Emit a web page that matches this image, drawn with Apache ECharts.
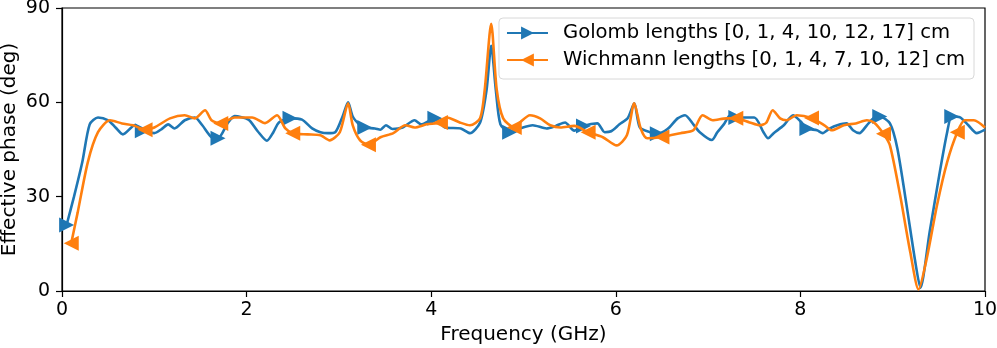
<!DOCTYPE html>
<html>
<head>
<meta charset="utf-8">
<script src="https://cdn.jsdelivr.net/npm/echarts@6/dist/echarts.min.js"></script>
<style>html,body{margin:0;padding:0;background:#fff;}#chart{width:997px;height:348px;}</style>
</head>
<body>
<div id="chart"></div>
<script>
const xTicks = [0, 2, 4, 6, 8, 10];
const yTicks = [0, 30, 60, 90];

const golombFreq = [0.05,0.13,0.22,0.30,0.39,0.5,0.58,0.66,0.79,0.87,1.0,1.08,1.15,1.22,1.33,1.44,1.52,1.62,1.69,1.8,1.87,2.02,2.12,2.22,2.29,2.35,2.47,2.6,2.71,2.8,2.88,2.96,3.04,3.1,3.15,3.23,3.28,3.39,3.45,3.51,3.58,3.69,3.82,3.89,4.04,4.15,4.32,4.42,4.53,4.6,4.65,4.7,4.75,4.85,4.96,5.1,5.25,5.35,5.45,5.55,5.65,5.8,5.88,5.95,6.04,6.13,6.2,6.26,6.37,6.45,6.56,6.67,6.75,6.84,6.91,7.04,7.1,7.17,7.24,7.3,7.5,7.6,7.65,7.71,7.82,7.92,8.0,8.07,8.18,8.24,8.32,8.4,8.5,8.57,8.64,8.72,8.79,8.86,8.97,9.05,9.15,9.25,9.3,9.4,9.51,9.59,9.64,9.73,9.82,9.91,10.0];
const golombPhase = [21,30,41,53,55.2,54.3,52,49.8,52.7,51,50.2,51.5,53,51.7,54.3,55.2,52.7,48.9,48.6,53.6,55.6,54.5,50.8,47.8,50.5,53.6,54.9,54.5,51.7,50.5,50.2,50.5,55.5,60,55.5,52.7,52,51.7,51.3,52.7,51.5,52,54.3,53,54.9,52,51.7,50.2,53.6,64,78,64,53,50.5,51.7,52.7,51.7,52.5,53.6,51,52.5,53.3,50.5,50.8,53,55,59.7,52,50.5,50,51.5,54.9,55.9,53,50.5,48,50.5,53,55.9,55.2,55.2,50.5,48.6,50.2,52.7,55.9,54,51.7,51.1,50.2,51.7,52.7,53.3,51.1,50.2,52.7,54.9,55.5,53.3,45.4,27.3,8.3,1,18.7,37.8,50.5,55.5,55.2,52.7,50.2,51.3];
const golombMarkFreq = [0.05,0.87,1.69,2.47,3.28,4.04,4.85,5.65,6.45,7.3,8.07,8.86,9.64];

const wichFreq = [0.1,0.17,0.28,0.39,0.52,0.65,0.77,0.9,1.0,1.17,1.33,1.44,1.55,1.62,1.72,1.87,2.06,2.2,2.33,2.42,2.5,2.66,2.8,2.9,3.01,3.1,3.15,3.23,3.32,3.45,3.59,3.72,3.82,3.95,4.1,4.17,4.31,4.42,4.53,4.58,4.65,4.71,4.78,4.9,4.96,5.07,5.18,5.29,5.4,5.55,5.7,5.86,6.01,6.12,6.2,6.27,6.34,6.5,6.7,6.84,6.94,7.05,7.2,7.3,7.45,7.56,7.63,7.7,7.78,7.85,7.96,8.12,8.26,8.34,8.47,8.6,8.72,8.8,8.9,8.97,9.08,9.19,9.28,9.37,9.48,9.59,9.7,9.78,9.88,10.0];
const wichPhase = [15.2,25,41,50.5,54.3,53.3,52.7,51.3,52,54.9,55.9,54.9,57.5,54.3,53.3,55.2,55.2,53.4,55.9,51.7,50.2,49.8,49.5,47.9,50.5,59.7,52.7,47.9,46.5,48.9,50.2,52.7,52,53,53.6,55.2,53.6,52.7,54.9,64,85,64,54.9,52,53.6,55.9,54.9,52.7,52,52.5,50.5,48.9,46.3,49.5,59.7,51.7,48.6,49,50.2,51.1,55.9,54.3,54.9,54.9,53.6,52.7,53.5,57.5,54.9,54.3,55.9,55,52.7,51.1,52.7,53.3,54.3,53.5,50,46.3,30.5,12.4,0.5,10.5,27.3,41,50.5,54.3,54.3,52];
const wichMarkFreq = [0.1,0.9,1.72,2.5,3.32,4.1,4.9,5.7,6.5,7.3,8.12,8.9,9.7];

const seriesNames = ['Golomb lengths [0, 1, 4, 10, 12, 17] cm', 'Wichmann lengths [0, 1, 4, 7, 10, 12] cm'];

function build(freq, phase, marks) {
  return freq.map((f, i) => {
    const isMark = marks.some(m => Math.abs(m - f) < 1e-9);
    return isMark ? { value: [f, phase[i]] } : { value: [f, phase[i]], symbol: 'none' };
  });
}

const font = 'DejaVu Sans, sans-serif';
const chart = echarts.init(document.getElementById('chart'), null, { renderer: 'canvas' });
chart.setOption({
  animation: false,
  backgroundColor: '#fff',
  grid: { left: 62, right: 12, top: 8, bottom: 57, containLabel: false, outerBoundsMode: 'none',
          show: true, borderColor: '#000', borderWidth: 1.2, backgroundColor: 'transparent' },
  xAxis: {
    type: 'value', min: xTicks[0], max: xTicks[xTicks.length - 1], interval: 2,
    name: 'Frequency (GHz)', nameLocation: 'middle', nameGap: 34, nameMoveOverlap: false,
    nameTextStyle: { fontFamily: font, fontSize: 20, color: '#000' },
    axisLine: { show: true, lineStyle: { color: '#000', width: 1.2 } },
    axisTick: { show: true, length: 6, lineStyle: { color: '#000', width: 1.2 } },
    axisLabel: { fontFamily: font, fontSize: 19, color: '#000', margin: 10 },
    splitLine: { show: false }
  },
  yAxis: {
    type: 'value', min: yTicks[0], max: yTicks[yTicks.length - 1], interval: 30,
    name: 'Effective phase (deg)', nameLocation: 'middle', nameGap: 42, nameRotate: 90, nameMoveOverlap: false,
    nameTextStyle: { fontFamily: font, fontSize: 20, color: '#000' },
    axisLine: { show: true, lineStyle: { color: '#000', width: 1.2 } },
    axisTick: { show: true, length: 6, lineStyle: { color: '#000', width: 1.2 } },
    axisLabel: { fontFamily: font, fontSize: 19, color: '#000', margin: 12 },
    splitLine: { show: false }
  },
  legend: {
    orient: 'vertical', right: 23, top: 18,
    padding: [4, 9, 8, 7], itemGap: 5, itemWidth: 41, itemHeight: 16,
    backgroundColor: 'rgba(255,255,255,0.8)', borderColor: '#d8d8d8', borderWidth: 1, borderRadius: 4,
    textStyle: { fontFamily: font, fontSize: 19.6, lineHeight: 22, color: '#000', padding: [0, 0, 0, 10] },
    data: seriesNames
  },
  series: [
    {
      name: seriesNames[0], type: 'line', data: build(golombFreq, golombPhase, golombMarkFreq),
      smooth: 0.25, showAllSymbol: true, symbol: 'triangle', symbolSize: [15, 15], symbolRotate: -90,
      lineStyle: { color: '#1f77b4', width: 2.6 }, itemStyle: { color: '#1f77b4' }, z: 2
    },
    {
      name: seriesNames[1], type: 'line', data: build(wichFreq, wichPhase, wichMarkFreq),
      smooth: 0.25, showAllSymbol: true, symbol: 'triangle', symbolSize: [15, 15], symbolRotate: 90,
      lineStyle: { color: '#ff7f0e', width: 2.6 }, itemStyle: { color: '#ff7f0e' }, z: 3
    }
  ]
});
</script>
</body>
</html>
